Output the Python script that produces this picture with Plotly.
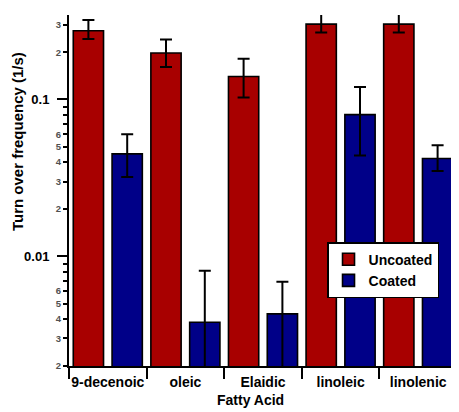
import plotly.graph_objects as go
import math

categories = ["9-decenoic", "oleic", "Elaidic", "linoleic", "linolenic"]

uncoated = [0.274, 0.198, 0.140, 0.302, 0.302]
uncoated_err_plus = [0.047, 0.043, 0.042, 0.050, 0.050]
uncoated_err_minus = [0.031, 0.037, 0.037, 0.035, 0.035]

coated = [0.045, 0.0038, 0.0043, 0.080, 0.042]
coated_err_plus = [0.015, 0.0043, 0.0026, 0.040, 0.009]
coated_err_minus = [0.013, 0.0030, 0.0035, 0.036, 0.007]

major_ticks = [0.01, 0.1]
major_labels = ["0.01", "0.1"]
minor_ticks = [0.002, 0.003, 0.004, 0.005, 0.006, 0.007, 0.008, 0.009,
               0.02, 0.03, 0.04, 0.05, 0.06, 0.07, 0.08, 0.09,
               0.2, 0.3]
minor_labels = ["2", "3", "4", "5", "6", "", "", "",
                "2", "3", "4", "5", "6", "", "", "",
                "2", "3"]

x_title = "Fatty Acid"
y_title = "Turn over frequency (1/s)"

y_min, y_max = 0.002, 0.3455
yrange = [math.log10(y_min), math.log10(y_max)]

FONT = "Liberation Sans, Arial, sans-serif"
RED = "#A80000"
BLUE = "#000088"

fig = go.Figure()
fig.add_trace(go.Bar(
    x=categories, y=uncoated, name="Uncoated",
    marker=dict(color=RED, line=dict(color="black", width=1.6)),
    error_y=dict(type="data", symmetric=False, array=uncoated_err_plus,
                 arrayminus=uncoated_err_minus, color="black",
                 thickness=2, width=6),
))
fig.add_trace(go.Bar(
    x=categories, y=coated, name="Coated",
    marker=dict(color=BLUE, line=dict(color="black", width=1.6)),
    error_y=dict(type="data", symmetric=False, array=coated_err_plus,
                 arrayminus=coated_err_minus, color="black",
                 thickness=2, width=6),
))
# invisible trace to carry the minor-label axis
fig.add_trace(go.Scatter(x=[categories[0]], y=[0.1], yaxis="y2",
                         mode="markers", marker=dict(opacity=0),
                         showlegend=False, hoverinfo="skip"))

# page body has an 8px margin: figure is sized/offset to compensate
fig.update_layout(
    width=451, height=404,
    margin=dict(l=61, r=2, t=7, b=46, autoexpand=False),
    paper_bgcolor="white", plot_bgcolor="white",
    font=dict(family=FONT, color="black"),
    barmode="group", bargap=0.0, bargroupgap=0.22,
    showlegend=True,
    legend=dict(x=0.665, y=0.353, xanchor="left", yanchor="top",
                bgcolor="white", bordercolor="black", borderwidth=1.5,
                font=dict(size=14, family=FONT, color="black", weight="bold"),
                tracegroupgap=0, itemwidth=30),
    xaxis=dict(
        type="category", showline=True, linecolor="black", linewidth=1.5,
        ticks="outside", tickson="boundaries", ticklen=11, tickwidth=1.5,
        tickcolor="black", tickfont=dict(size=14, family=FONT, weight="bold"),
        tickangle=0, automargin=False, ticklabelstandoff=2,
        showgrid=False, zeroline=False,
    ),
    yaxis=dict(
        type="log", range=yrange, showline=True, linecolor="black", linewidth=2,
        ticks="outside", ticklen=10, tickwidth=1.5, tickcolor="black",
        tickvals=major_ticks, ticktext=major_labels, ticklabelstandoff=5,
        tickfont=dict(size=13, family=FONT, weight="bold"), automargin=False,
        showgrid=False, zeroline=False,
    ),
    yaxis2=dict(
        type="log", range=yrange, overlaying="y", side="left", anchor="x",
        showline=False, ticks="outside", ticklen=5, tickwidth=1.5,
        tickcolor="black", tickvals=minor_ticks, ticktext=minor_labels,
        tickfont=dict(size=9.5, family=FONT, color="#505050", weight="bold"),
        automargin=False, showgrid=False, zeroline=False,
    ),
    annotations=[
        dict(text=y_title, xref="paper", yref="paper", x=-0.134, y=0.638,
             xanchor="center", yanchor="middle", textangle=-90, showarrow=False,
             font=dict(size=15, family=FONT, weight="bold", color="black")),
        dict(text=x_title, xref="paper", yref="paper", x=0.469, y=-0.097,
             xanchor="center", yanchor="middle", showarrow=False,
             font=dict(size=14, family=FONT, weight="bold", color="black")),
    ],
)

fig.write_html("out.html")
